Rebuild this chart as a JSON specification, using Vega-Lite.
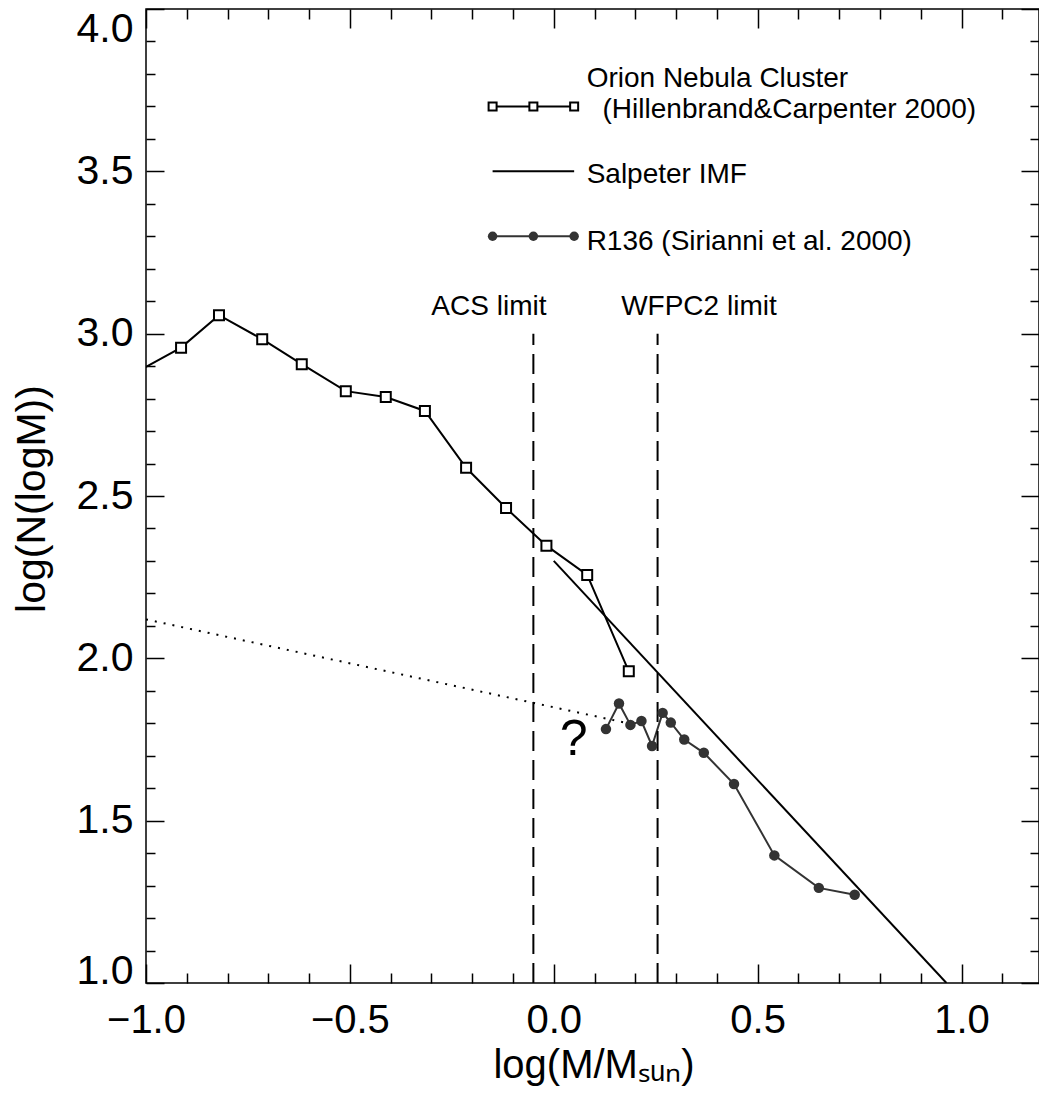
{
  "$schema": "https://vega.github.io/schema/vega-lite/v6.json",
  "width": 893,
  "height": 974,
  "autosize": {"type": "none"},
  "padding": {"left": 146, "top": 9, "right": 0, "bottom": 112},
  "background": "white",
  "config": {"view": {"stroke": "#000", "strokeWidth": 1.5}, "font": "Liberation Sans"},
  "datasets": {
    "onc": [
      {"x": -1.014, "y": 2.888},
      {"x": -0.914, "y": 2.957},
      {"x": -0.821, "y": 3.057},
      {"x": -0.715, "y": 2.983},
      {"x": -0.618, "y": 2.906},
      {"x": -0.510, "y": 2.823},
      {"x": -0.412, "y": 2.805},
      {"x": -0.316, "y": 2.762},
      {"x": -0.215, "y": 2.587},
      {"x": -0.117, "y": 2.463},
      {"x": -0.018, "y": 2.347},
      {"x": 0.082, "y": 2.257},
      {"x": 0.184, "y": 1.960}
    ],
    "r136": [
      {"x": 0.128, "y": 1.782},
      {"x": 0.160, "y": 1.861},
      {"x": 0.188, "y": 1.795},
      {"x": 0.215, "y": 1.807},
      {"x": 0.241, "y": 1.730},
      {"x": 0.267, "y": 1.832},
      {"x": 0.287, "y": 1.802},
      {"x": 0.320, "y": 1.750},
      {"x": 0.368, "y": 1.709},
      {"x": 0.442, "y": 1.613},
      {"x": 0.541, "y": 1.393},
      {"x": 0.650, "y": 1.293},
      {"x": 0.738, "y": 1.272}
    ],
    "sal": [{"x": 0.0, "y": 2.30}, {"x": 0.963, "y": 1.0}],
    "dot": [{"x": -1.0, "y": 2.12}, {"x": 0.182, "y": 1.80}],
    "lim": [{"x": -0.05, "y": 1.0, "y2": 3.0}, {"x": 0.2546, "y": 1.0, "y2": 3.0}],
    "limtxt": [
      {"x": -0.159, "y": 3.058, "text": "ACS limit"},
      {"x": 0.356, "y": 3.058, "text": "WFPC2 limit"}
    ],
    "legsq": [{"x": -0.15, "y": 3.7}, {"x": -0.05, "y": 3.7}, {"x": 0.05, "y": 3.7}],
    "legsal": [{"x": -0.15, "y": 3.5}, {"x": 0.05, "y": 3.5}],
    "legr": [{"x": -0.15, "y": 3.3}, {"x": -0.05, "y": 3.3}, {"x": 0.05, "y": 3.3}],
    "legtxt": [
      {"x": 0.0806, "y": 3.760, "text": "Orion Nebula Cluster"},
      {"x": 0.1196, "y": 3.664, "text": "(Hillenbrand&Carpenter 2000)"},
      {"x": 0.0806, "y": 3.464, "text": "Salpeter IMF"},
      {"x": 0.0806, "y": 3.258, "text": "R136 (Sirianni et al. 2000)"}
    ],
    "q": [{"x": 0.049, "y": 1.703, "text": "?"}]
  },
  "resolve": {"axis": {"x": "independent", "y": "independent"}},
  "layer": [
    {
      "data": {"name": "onc"},
      "mark": {"type": "line", "color": "#000", "strokeWidth": 2, "clip": true},
      "encoding": {
        "x": {"field": "x", "type": "quantitative", "scale": {"domain": [-1, 1.19], "nice": false, "zero": false},
          "axis": {"orient": "bottom", "values": [-1, -0.5, 0, 0.5, 1], "format": ".1f", "ticks": false, "domain": false, "grid": false,
            "labelFont": "Liberation Sans", "labelFontSize": 40, "labelColor": "#000", "labelPadding": 17, "labelFlush": false, "labelOverlap": false,
            "title": "log(M/Mₛᵤₙ)", "titleFont": "Liberation Sans", "titleFontSize": 40, "titleFontWeight": "normal", "titleColor": "#000",
            "titleX": 447.5, "titleY": 94, "titleBaseline": "alphabetic", "titleAlign": "center"}},
        "y": {"field": "y", "type": "quantitative", "scale": {"domain": [1, 4], "nice": false, "zero": false},
          "axis": {"orient": "left", "values": [1, 1.5, 2, 2.5, 3, 3.5, 4], "format": ".1f", "ticks": false, "domain": false, "grid": false,
            "labelFont": "Liberation Sans", "labelFontSize": 41, "labelColor": "#000", "labelPadding": 13, "labelFlush": false, "labelOverlap": false,
            "labelBaseline": {"condition": [{"test": "datum.value >= 3.99", "value": "top"}, {"test": "datum.value <= 1.01", "value": "alphabetic"}], "value": "middle"},
            "title": "log(N(logM))", "titleFont": "Liberation Sans", "titleFontSize": 41, "titleFontWeight": "normal", "titleColor": "#000",
            "titleX": -101.6, "titleY": 489.5, "titleAngle": 270, "titleBaseline": "alphabetic", "titleAlign": "center"}}
      }
    },
    {
      "data": {"name": "r136"},
      "mark": {"type": "line", "color": "#333333", "strokeWidth": 2, "clip": true},
      "encoding": {
        "x": {"field": "x", "type": "quantitative", "scale": {"domain": [-1, 1.19], "nice": false, "zero": false},
          "axis": {"orient": "bottom", "values": [-1, -0.9, -0.8, -0.7, -0.6, -0.5, -0.4, -0.3, -0.2, -0.1, 0, 0.1, 0.2, 0.3, 0.4, 0.5, 0.6, 0.7, 0.8, 0.9, 1, 1.1],
            "labels": false, "domain": false, "grid": false, "ticks": true, "tickColor": "#000", "tickWidth": 1.5,
            "tickSize": {"condition": {"test": "abs(datum.value*2 - round(datum.value*2)) < 0.01", "value": -19}, "value": -10}, "title": null}},
        "y": {"field": "y", "type": "quantitative", "scale": {"domain": [1, 4], "nice": false, "zero": false},
          "axis": {"orient": "left", "values": [1, 1.1, 1.2, 1.3, 1.4, 1.5, 1.6, 1.7, 1.8, 1.9, 2, 2.1, 2.2, 2.3, 2.4, 2.5, 2.6, 2.7, 2.8, 2.9, 3, 3.1, 3.2, 3.3, 3.4, 3.5, 3.6, 3.7, 3.8, 3.9, 4],
            "labels": false, "domain": false, "grid": false, "ticks": true, "tickColor": "#000", "tickWidth": 1.5,
            "tickSize": {"condition": {"test": "abs(datum.value*2 - round(datum.value*2)) < 0.01", "value": -18}, "value": -9}, "title": null}}
      }
    },
    {
      "data": {"name": "sal"},
      "mark": {"type": "line", "color": "#000", "strokeWidth": 2, "clip": true},
      "encoding": {
        "x": {"field": "x", "type": "quantitative", "scale": {"domain": [-1, 1.19], "nice": false, "zero": false},
          "axis": {"orient": "top", "values": [-1, -0.9, -0.8, -0.7, -0.6, -0.5, -0.4, -0.3, -0.2, -0.1, 0, 0.1, 0.2, 0.3, 0.4, 0.5, 0.6, 0.7, 0.8, 0.9, 1, 1.1],
            "labels": false, "domain": false, "grid": false, "ticks": true, "tickColor": "#000", "tickWidth": 1.5,
            "tickSize": {"condition": {"test": "abs(datum.value*2 - round(datum.value*2)) < 0.01", "value": -19}, "value": -10}, "title": null}},
        "y": {"field": "y", "type": "quantitative", "scale": {"domain": [1, 4], "nice": false, "zero": false},
          "axis": {"orient": "right", "values": [1, 1.1, 1.2, 1.3, 1.4, 1.5, 1.6, 1.7, 1.8, 1.9, 2, 2.1, 2.2, 2.3, 2.4, 2.5, 2.6, 2.7, 2.8, 2.9, 3, 3.1, 3.2, 3.3, 3.4, 3.5, 3.6, 3.7, 3.8, 3.9, 4],
            "labels": false, "domain": false, "grid": false, "ticks": true, "tickColor": "#000", "tickWidth": 1.5,
            "tickSize": {"condition": {"test": "abs(datum.value*2 - round(datum.value*2)) < 0.01", "value": -18}, "value": -9}, "title": null}}
      }
    },
    {
      "data": {"name": "dot"},
      "mark": {"type": "line", "color": "#000", "strokeWidth": 2, "strokeDash": [2, 7], "clip": true},
      "encoding": {
        "x": {"field": "x", "type": "quantitative", "axis": null},
        "y": {"field": "y", "type": "quantitative", "axis": null}
      }
    },
    {
      "data": {"name": "lim"},
      "mark": {"type": "rule", "color": "#000", "strokeWidth": 2, "strokeDash": [20, 9]},
      "encoding": {
        "x": {"field": "x", "type": "quantitative", "axis": null},
        "y": {"field": "y", "type": "quantitative", "axis": null},
        "y2": {"field": "y2"}
      }
    },
    {
      "data": {"name": "onc"},
      "transform": [{"filter": "datum.x >= -1"}],
      "mark": {"type": "point", "shape": "square", "size": 100, "filled": false, "fill": "white", "stroke": "#000", "strokeWidth": 2, "opacity": 1},
      "encoding": {
        "x": {"field": "x", "type": "quantitative", "axis": null},
        "y": {"field": "y", "type": "quantitative", "axis": null}
      }
    },
    {
      "data": {"name": "r136"},
      "mark": {"type": "point", "shape": "circle", "size": 110, "filled": true, "color": "#333333", "opacity": 1},
      "encoding": {
        "x": {"field": "x", "type": "quantitative", "axis": null},
        "y": {"field": "y", "type": "quantitative", "axis": null}
      }
    },
    {
      "data": {"name": "legsq"},
      "mark": {"type": "line", "color": "#000", "strokeWidth": 2},
      "encoding": {
        "x": {"field": "x", "type": "quantitative", "axis": null},
        "y": {"field": "y", "type": "quantitative", "axis": null}
      }
    },
    {
      "data": {"name": "legsq"},
      "mark": {"type": "point", "shape": "square", "size": 64, "filled": false, "fill": "white", "stroke": "#000", "strokeWidth": 2, "opacity": 1},
      "encoding": {
        "x": {"field": "x", "type": "quantitative", "axis": null},
        "y": {"field": "y", "type": "quantitative", "axis": null}
      }
    },
    {
      "data": {"name": "legsal"},
      "mark": {"type": "line", "color": "#000", "strokeWidth": 2},
      "encoding": {
        "x": {"field": "x", "type": "quantitative", "axis": null},
        "y": {"field": "y", "type": "quantitative", "axis": null}
      }
    },
    {
      "data": {"name": "legr"},
      "mark": {"type": "line", "color": "#333333", "strokeWidth": 2},
      "encoding": {
        "x": {"field": "x", "type": "quantitative", "axis": null},
        "y": {"field": "y", "type": "quantitative", "axis": null}
      }
    },
    {
      "data": {"name": "legr"},
      "mark": {"type": "point", "shape": "circle", "size": 90, "filled": true, "color": "#333333", "opacity": 1},
      "encoding": {
        "x": {"field": "x", "type": "quantitative", "axis": null},
        "y": {"field": "y", "type": "quantitative", "axis": null}
      }
    },
    {
      "data": {"name": "legtxt"},
      "mark": {"type": "text", "align": "left", "baseline": "alphabetic", "font": "Liberation Sans", "fontSize": 28, "color": "#000"},
      "encoding": {
        "x": {"field": "x", "type": "quantitative", "axis": null},
        "y": {"field": "y", "type": "quantitative", "axis": null},
        "text": {"field": "text"}
      }
    },
    {
      "data": {"name": "limtxt"},
      "mark": {"type": "text", "align": "center", "baseline": "alphabetic", "font": "Liberation Sans", "fontSize": 28, "color": "#000"},
      "encoding": {
        "x": {"field": "x", "type": "quantitative", "axis": null},
        "y": {"field": "y", "type": "quantitative", "axis": null},
        "text": {"field": "text"}
      }
    },
    {
      "data": {"name": "q"},
      "mark": {"type": "text", "align": "center", "baseline": "alphabetic", "font": "Liberation Sans", "fontSize": 50, "color": "#000"},
      "encoding": {
        "x": {"field": "x", "type": "quantitative", "axis": null},
        "y": {"field": "y", "type": "quantitative", "axis": null},
        "text": {"field": "text"}
      }
    }
  ]
}
